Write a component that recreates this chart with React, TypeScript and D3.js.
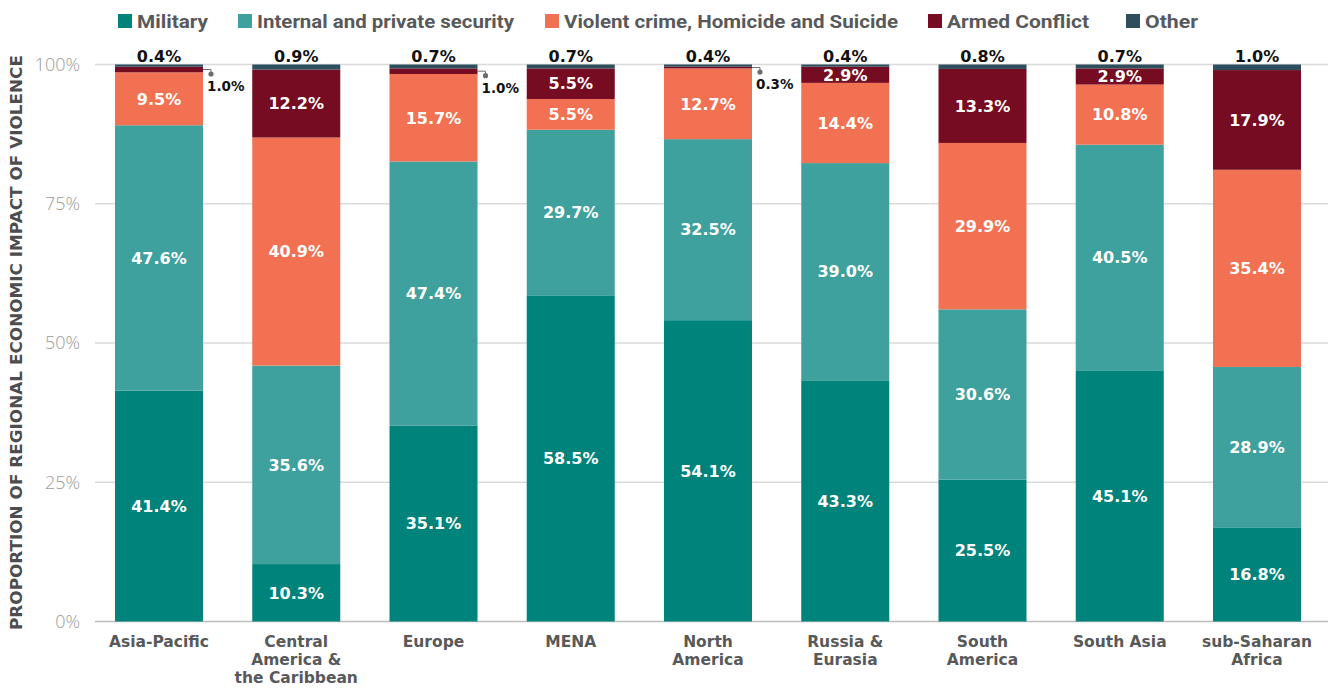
import React from "react";
import * as d3 from "d3";

const regions = [
  "Asia-Pacific",
  "Central America & the Caribbean",
  "Europe",
  "MENA",
  "North America",
  "Russia & Eurasia",
  "South America",
  "South Asia",
  "sub-Saharan Africa",
];
const regionLines = [
  ["Asia-Pacific"],
  ["Central", "America &", "the Caribbean"],
  ["Europe"],
  ["MENA"],
  ["North", "America"],
  ["Russia &", "Eurasia"],
  ["South", "America"],
  ["South Asia"],
  ["sub-Saharan", "Africa"],
];
const seriesNames = [
  "Military",
  "Internal and private security",
  "Violent crime, Homicide and Suicide",
  "Armed Conflict",
  "Other",
];
const military = [41.4, 10.3, 35.1, 58.5, 54.1, 43.3, 25.5, 45.1, 16.8];
const internalSecurity = [47.6, 35.6, 47.4, 29.7, 32.5, 39.0, 30.6, 40.5, 28.9];
const violentCrime = [9.5, 40.9, 15.7, 5.5, 12.7, 14.4, 29.9, 10.8, 35.4];
const armedConflict = [1.0, 12.2, 1.0, 5.5, 0.3, 2.9, 13.3, 2.9, 17.9];
const other = [0.4, 0.9, 0.7, 0.7, 0.4, 0.4, 0.8, 0.7, 1.0];
const yTicks = [0, 0.25, 0.5, 0.75, 1];
const colors = ["#00837b", "#3fa19d", "#f37153", "#760c21", "#2e4e5e"];

const W = 1335;
const H = 688;
const legendX = [118, 238, 545, 928, 1126];
const legendW = [71, 257, 334, 142, 53];

export default function App() {
  const seriesValues = [military, internalSecurity, violentCrime, armedConflict, other];
  const rows = regions.map((r, i) => {
    const o: any = { region: r };
    seriesNames.forEach((s, k) => (o[s] = seriesValues[k][i]));
    return o;
  });
  const stack = d3.stack<any>().keys(seriesNames).offset(d3.stackOffsetExpand);
  const stacked = stack(rows);

  const x = d3
    .scaleBand<string>()
    .domain(regions)
    .range([95, 1321])
    .paddingInner(0.3588)
    .paddingOuter(0.1457);
  const y = d3.scaleLinear().domain([0, 1]).range([621.5, 64.5]);
  const bw = x.bandwidth();

  const labelFont = "'DejaVu Sans', sans-serif";

  return (
    <svg
      width={W}
      height={H}
      style={{ position: "absolute", left: 0, top: 0, background: "#fff" }}
    >
      {/* legend */}
      {seriesNames.map((s, k) => (
        <g key={s}>
          <rect x={legendX[k]} y={14} width={14} height={14} fill={colors[k]} />
          <text
            x={legendX[k] + 19}
            y={27.5}
            fontFamily="Roboto, sans-serif"
            fontWeight={700}
            fontSize={19}
            fill="#58595b"
            textLength={legendW[k]}
            lengthAdjust="spacingAndGlyphs"
          >
            {s}
          </text>
        </g>
      ))}

      {/* gridlines */}
      {yTicks.map((t) => (
        <g key={t}>
          <line
            x1={95}
            x2={1328}
            y1={y(t)}
            y2={y(t)}
            stroke={t === 0 ? "#bdbdbd" : "#dadada"}
            strokeWidth={1.5}
          />
          <text
            x={80}
            y={y(t)}
            dy="0.35em"
            textAnchor="end"
            fontFamily="'Open Sans', sans-serif"
            fontWeight={300}
            fontSize={18}
            fill="#9a9a9a"
          >
            {d3.format(".0%")(t)}
          </text>
        </g>
      ))}

      {/* y title */}
      <text
        transform={`translate(22,342.5) rotate(-90)`}
        textAnchor="middle"
        fontFamily={labelFont}
        fontWeight={700}
        fontSize={15.5}
        fill="#4d4d4f"
        textLength={575}
        lengthAdjust="spacingAndGlyphs"
      >
        PROPORTION OF REGIONAL ECONOMIC IMPACT OF VIOLENCE
      </text>

      {/* bars */}
      {stacked.map((layer, k) => (
        <g key={layer.key} fill={colors[k]}>
          {layer.map((d, i) => (
            <rect
              key={i}
              x={x(regions[i])}
              y={y(d[1])}
              width={bw}
              height={y(d[0]) - y(d[1])}
            />
          ))}
        </g>
      ))}

      {/* labels */}
      {stacked.map((layer, k) =>
        layer.map((d, i) => {
          const v = seriesValues[k][i];
          const txt = d3.format(".1f")(v) + "%";
          const x0 = x(regions[i]) as number;
          const cx = x0 + bw / 2;
          const ym = (y(d[0]) + y(d[1])) / 2;
          if (k === 4) {
            return (
              <text
                key={`${k}-${i}`}
                x={cx}
                y={62}
                textAnchor="middle"
                fontFamily={labelFont}
                fontWeight={700}
                fontSize={16}
                fill="#111"
              >
                {txt}
              </text>
            );
          }
          if (v < 2) {
            const lx = x0 + bw + 8;
            const dotY = ym + 4.5;
            return (
              <g key={`${k}-${i}`}>
                <path
                  d={`M${x0 + bw},${ym}H${lx}V${dotY}`}
                  fill="none"
                  stroke="#6d6d6d"
                  strokeWidth={1}
                />
                <circle cx={lx} cy={dotY} r={2.6} fill="#6d6d6d" />
                <text
                  x={x0 + bw + 4}
                  y={dotY + 12.5}
                  dy="0.36em"
                  fontFamily={labelFont}
                  fontWeight={700}
                  fontSize={13.5}
                  fill="#111"
                >
                  {txt}
                </text>
              </g>
            );
          }
          return (
            <text
              key={`${k}-${i}`}
              x={cx}
              y={ym}
              dy="0.36em"
              textAnchor="middle"
              fontFamily={labelFont}
              fontWeight={700}
              fontSize={16}
              fill="#fff"
            >
              {txt}
            </text>
          );
        })
      )}

      {/* x labels */}
      {regions.map((r, i) => (
        <text
          key={r}
          x={(x(r) as number) + bw / 2}
          y={641}
          textAnchor="middle"
          fontFamily={labelFont}
          fontWeight={700}
          fontSize={15.5}
          fill="#58595b"
        >
          {regionLines[i].map((ln, j) => (
            <tspan key={j} x={(x(r) as number) + bw / 2} y={641 + j * 18} dy="0.36em">
              {ln}
            </tspan>
          ))}
        </text>
      ))}
    </svg>
  );
}
